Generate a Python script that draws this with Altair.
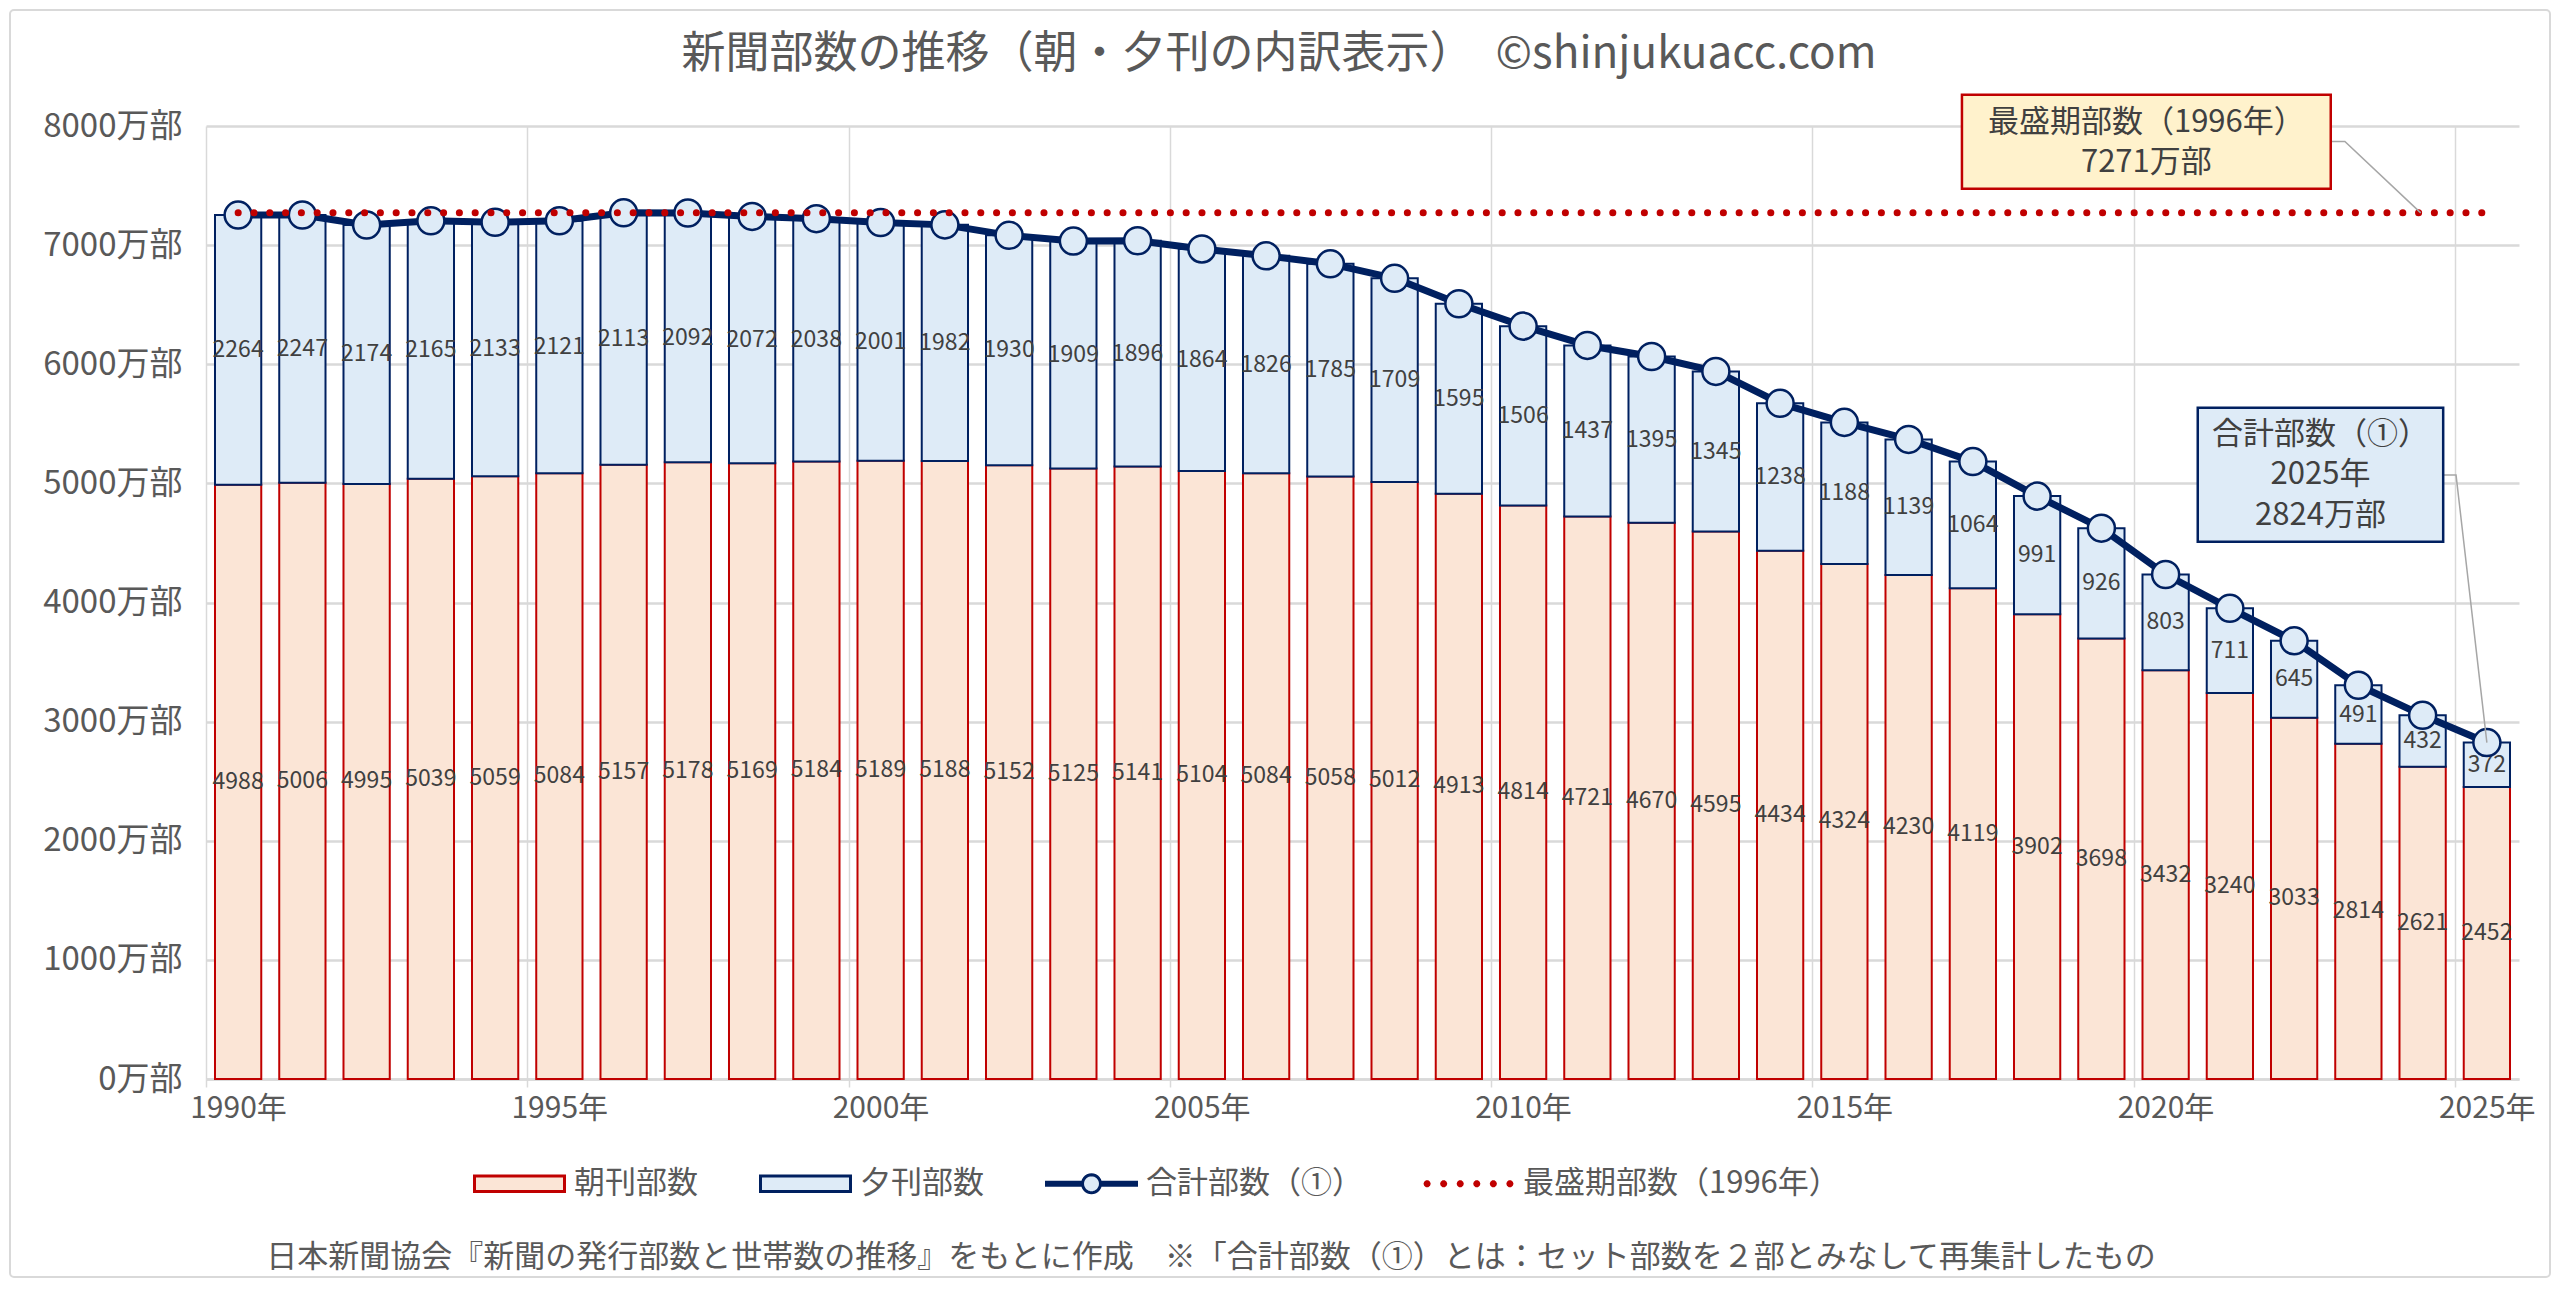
import math
import altair as alt
import pandas as pd

FONT = "Noto Sans CJK JP"

# ---------------- data ----------------
years = list(range(1990, 2026))
morning = [4988, 5006, 4995, 5039, 5059, 5084, 5157, 5178, 5169, 5184,
           5189, 5188, 5152, 5125, 5141, 5104, 5084, 5058, 5012, 4913,
           4814, 4721, 4670, 4595, 4434, 4324, 4230, 4119, 3902, 3698,
           3432, 3240, 3033, 2814, 2621, 2452]
evening = [2264, 2247, 2174, 2165, 2133, 2121, 2113, 2092, 2072, 2038,
           2001, 1982, 1930, 1909, 1896, 1864, 1826, 1785, 1709, 1595,
           1506, 1437, 1395, 1345, 1238, 1188, 1139, 1064, 991, 926,
           803, 711, 645, 491, 432, 372]
total = [7252, 7253, 7169, 7204, 7192, 7205, 7271, 7270, 7241, 7222,
         7190, 7170, 7082, 7034, 7037, 6968, 6910, 6843, 6721, 6508,
         6320, 6158, 6065, 5940, 5672, 5512, 5369, 5183, 4893, 4624,
         4235, 3951, 3678, 3305, 3053, 2824]

x_tick_years = [1990, 1995, 2000, 2005, 2010, 2015, 2020, 2025]
y_ticks = [0, 1000, 2000, 3000, 4000, 5000, 6000, 7000, 8000]

series_names = ["朝刊部数", "夕刊部数", "合計部数（①）", "最盛期部数（1996年）"]
peak_value = 7271

title_text = "新聞部数の推移（朝・夕刊の内訳表示）　©shinjukuacc.com"
footer_text = ("日本新聞協会『新聞の発行部数と世帯数の推移』をもとに作成　"
               "※「合計部数（①）とは：セット部数を２部とみなして再集計したもの")

# annotation callouts (data coordinates; text y = first line)
peak_box = {"x0": 2017.33, "x1": 2023.07, "y0": 7473, "y1": 8262}
peak_lines = ["最盛期部数（1996年）", "7271万部"]
peak_text_xy = (2020.2, 8027)
peak_leader_x = [2023.07, 2023.29, 2024.47]
peak_leader_y = [7870, 7870, 7271]

last_box = {"x0": 2021.0, "x1": 2024.82, "y0": 4509, "y1": 5634}
last_lines = ["合計部数（①）", "2025年", "2824万部"]
last_text_xy = (2022.91, 5407)
last_leader_x = [2024.82, 2025.02, 2025.5]
last_leader_y = [5071, 5071, 2824]

# ---------------- colours ----------------
C_M_FILL, C_M_STROKE = "#FBE5D6", "#C00000"
C_E_FILL, C_E_STROKE = "#DEEBF7", "#002060"
C_LINE = "#002060"
C_PEAK = "#C00000"
C_TEXT = "#595959"
C_LABEL = "#404040"
C_GRID = "#D9D9D9"

W, H = 2313, 953
PAD = {"left": 198, "top": 118, "right": 33, "bottom": 200}

df = pd.DataFrame({"year": years, "morning": morning, "evening": evening, "total": total})

xscale = alt.Scale(domain=[1990, 2026], nice=False, zero=False)
yscale = alt.Scale(domain=[0, 8000], nice=False, zero=True)

xaxis = alt.Axis(values=x_tick_years, labelExpr="datum.value + '年'", labelOffset=32,
                 grid=True, gridColor=C_GRID, gridWidth=1.5,
                 domain=True, domainColor=C_GRID, domainWidth=2.5,
                 ticks=True, tickColor=C_GRID, tickSize=8, tickWidth=1.5,
                 labelFont=FONT, labelFontSize=30, labelColor=C_TEXT,
                 labelPadding=6, labelFlush=False, labelBound=False, title=None)
yaxis = alt.Axis(values=y_ticks, labelExpr="datum.value + '万部'",
                 grid=True, gridColor=C_GRID, gridWidth=2.5,
                 domain=False, ticks=False,
                 labelFont=FONT, labelFontSize=33, labelColor=C_TEXT,
                 labelPadding=24, title=None)

base = alt.Chart(df).transform_calculate(
    x0="datum.year + 0.14",
    x1="datum.year + 0.86",
    xc="datum.year + 0.5",
    stack_top="datum.morning + datum.evening",
    m_mid="datum.morning / 2",
    e_mid="datum.morning + datum.evening / 2",
)

bars_m = base.mark_bar(fill=C_M_FILL, stroke=C_M_STROKE, strokeWidth=2).encode(
    x=alt.X("x0:Q", scale=xscale, axis=xaxis, title=None),
    x2="x1:Q",
    y=alt.Y("morning:Q", scale=yscale, axis=yaxis, title=None),
    y2=alt.datum(0),
)
bars_e = base.mark_bar(fill=C_E_FILL, stroke=C_E_STROKE, strokeWidth=2).encode(
    x=alt.X("x0:Q", title=None), x2="x1:Q",
    y=alt.Y("morning:Q", title=None), y2="stack_top:Q",
)
lab_m = base.mark_text(font=FONT, fontSize=23, color=C_LABEL, baseline="middle").encode(
    x=alt.X("xc:Q", title=None), y=alt.Y("m_mid:Q", title=None), text="morning:Q")
lab_e = base.mark_text(font=FONT, fontSize=23, color=C_LABEL, baseline="middle").encode(
    x=alt.X("xc:Q", title=None), y=alt.Y("e_mid:Q", title=None), text="evening:Q")

line = base.mark_line(color=C_LINE, strokeWidth=7, strokeJoin="round").encode(
    x=alt.X("xc:Q", title=None), y=alt.Y("total:Q", title=None))
pts = base.mark_point(shape="circle", filled=True, size=730, fill=C_E_FILL,
                      stroke=C_LINE, strokeWidth=2.5, opacity=1).encode(
    x=alt.X("xc:Q", title=None), y=alt.Y("total:Q", title=None))

peak_df = pd.DataFrame({"x0": [years[0] + 0.5], "x1": [years[-1] + 0.5], "v": [peak_value]})
peak_rule = alt.Chart(peak_df).mark_rule(color=C_PEAK, strokeWidth=7, strokeCap="round",
                                         strokeDash=[0.1, 15.7]).encode(
    x=alt.X("x0:Q", title=None), x2="x1:Q", y=alt.Y("v:Q", title=None))

# callouts
def box_layer(b, fill, stroke):
    return alt.Chart(pd.DataFrame([b])).mark_rect(fill=fill, stroke=stroke, strokeWidth=2.5).encode(
        x=alt.X("x0:Q", title=None), x2="x1:Q", y=alt.Y("y0:Q", title=None), y2="y1:Q")

def leader_layer(xs, ys):
    d = pd.DataFrame({"x": xs, "y": ys, "o": list(range(len(xs)))})
    return alt.Chart(d).mark_line(color="#A6A6A6", strokeWidth=1.5).encode(
        x=alt.X("x:Q", title=None), y=alt.Y("y:Q", title=None), order="o:Q")

def text_block(xy, lines, size, lh):
    d = pd.DataFrame({"x": [xy[0]], "y": [xy[1]], "t": ["\n".join(lines)]})
    return alt.Chart(d).mark_text(font=FONT, fontSize=size, color=C_LABEL, baseline="middle",
                                  align="center", lineBreak="\n", lineHeight=lh).encode(
        x=alt.X("x:Q", title=None), y=alt.Y("y:Q", title=None), text="t:N")

peak_leader = leader_layer(peak_leader_x, peak_leader_y)
last_leader = leader_layer(last_leader_x, last_leader_y)
peak_rect = box_layer(peak_box, "#FFF2CC", C_PEAK)
last_rect = box_layer(last_box, C_E_FILL, C_E_STROKE)
peak_text = text_block(peak_text_xy, peak_lines, 31, 40)
last_text = text_block(last_text_xy, last_lines, 31, 40.5)

# ---------------- legend (custom symbols) ----------------
def poly(cx, cy, r, n):
    pts_ = [(cx + r * math.cos(2 * math.pi * k / n), cy + r * math.sin(2 * math.pi * k / n)) for k in range(n)]
    return "M" + "L".join(f"{a:.4f},{b:.4f}" for a, b in pts_) + "Z"

rect_path = "M-1,-0.17L1,-0.17L1,0.17L-1,0.17Z"
line_circle_path = ("M-1,-0.035L-0.2,-0.035L-0.2,0.035L-1,0.035Z"
                    "M0.2,-0.035L1,-0.035L1,0.035L0.2,0.035Z" + poly(0, 0, 0.2, 28))
dots_path = "".join(poly(x, 0, 0.045, 10) for x in [-0.92, -0.552, -0.184, 0.184, 0.552, 0.92])

leg = alt.Legend(orient="none", legendX=267, legendY=1011, direction="horizontal", title=None,
                 symbolSize=8100, symbolStrokeWidth=3, symbolOpacity=1,
                 labelFont=FONT, labelFontSize=31, labelColor=C_TEXT, labelLimit=0,
                 labelOffset=8, columnPadding=56)
leg_df = pd.DataFrame({"series": series_names})
legend_layer = alt.Chart(leg_df).mark_point(filled=True, opacity=0, strokeWidth=3).encode(
    x=alt.datum(1990), y=alt.datum(0),
    fill=alt.Fill("series:N", scale=alt.Scale(domain=series_names,
                  range=[C_M_FILL, C_E_FILL, C_E_FILL, C_PEAK]), legend=leg),
    stroke=alt.Stroke("series:N", scale=alt.Scale(domain=series_names,
                      range=[C_M_STROKE, C_E_STROKE, C_LINE, C_PEAK]), legend=leg),
    shape=alt.Shape("series:N", scale=alt.Scale(domain=series_names,
                    range=[rect_path, rect_path, line_circle_path, dots_path]), legend=leg),
)

title = alt.Chart(pd.DataFrame({"t": [title_text]})).mark_text(
    font=FONT, fontSize=44, color=C_TEXT, align="center", baseline="middle").encode(
    x=alt.value(1073), y=alt.value(-71), text="t:N")

footer = alt.Chart(pd.DataFrame({"t": [footer_text]})).mark_text(
    font=FONT, fontSize=31, color=C_TEXT, align="center", baseline="middle").encode(
    x=alt.value(1005), y=alt.value(1132), text="t:N")

frame = alt.Chart(pd.DataFrame({"a": [0]})).mark_rect(
    fill=None, stroke=C_GRID, strokeWidth=2, cornerRadius=4).encode(
    x=alt.value(-PAD["left"] + 2), x2=alt.value(W + PAD["right"] - 2),
    y=alt.value(-PAD["top"] + 2), y2=alt.value(H + PAD["bottom"] - 2))

chart = alt.layer(
    bars_m, bars_e, lab_m, lab_e, line, pts, peak_rule,
    peak_leader, last_leader, peak_rect, last_rect, peak_text, last_text,
    legend_layer, title, footer, frame,
).properties(
    width=W, height=H,
    autosize=alt.AutoSizeParams(type="none"),
    padding=PAD,
    background="white",
).configure_view(stroke=None)

chart.save("out.html", embed_options={"renderer": "svg", "actions": False})
